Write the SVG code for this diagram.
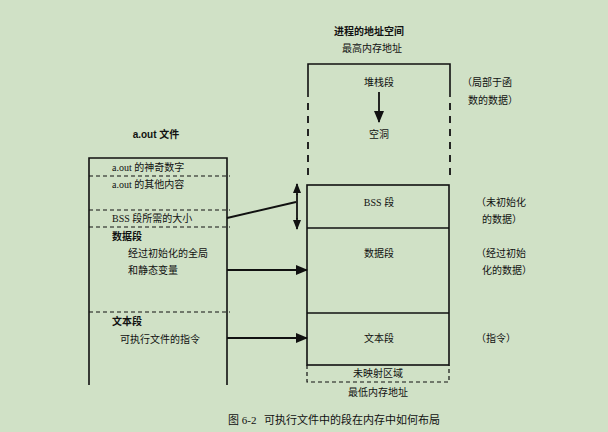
<svg xmlns="http://www.w3.org/2000/svg" width="608" height="432" viewBox="0 0 608 432">
<defs>
<style>
text{font-family:"Liberation Serif","Noto Sans CJK SC",serif;font-size:10px;fill:#111}
.b{font-weight:bold;font-family:"Liberation Sans","Noto Sans CJK SC",sans-serif}
.c{text-anchor:middle}
.box{fill:none;stroke:#111;stroke-width:1.6}
.d{stroke:#111;stroke-width:1.2;stroke-dasharray:4 3;fill:none}
.dl{stroke:#111;stroke-width:1.8;stroke-dasharray:7 6;fill:none}
.ln{stroke:#111;stroke-width:1.8;fill:none}
</style>
<marker id="ah" markerWidth="10" markerHeight="8" refX="9" refY="4" orient="auto" markerUnits="userSpaceOnUse"><path d="M0,0L10,4L0,8Z" fill="#111"/></marker>
<marker id="ah2" markerWidth="12" markerHeight="10" refX="11" refY="5" orient="auto" markerUnits="userSpaceOnUse"><path d="M0,0L12,5L0,10Z" fill="#111"/></marker>
</defs>
<rect width="608" height="432" fill="#d0e1c6"/>
<g id="aout">
<text class="b c" x="156" y="138">a.out 文件</text>
<path class="box" d="M89,385V158H227V385"/>
<line class="d" x1="89" y1="176" x2="230" y2="176"/>
<line class="d" x1="89" y1="210" x2="230" y2="210"/>
<line class="d" x1="89" y1="227" x2="230" y2="227"/>
<line class="d" x1="89" y1="312" x2="230" y2="312"/>
<text x="112" y="171">a.out 的神奇数字</text>
<text x="112" y="188">a.out 的其他内容</text>
<text x="112" y="222">BSS 段所需的大小</text>
<text class="b" x="112" y="240">数据段</text>
<text x="128" y="257">经过初始化的全局</text>
<text x="128" y="274">和静态变量</text>
<text class="b" x="112" y="325">文本段</text>
<text x="120" y="343">可执行文件的指令</text>
</g>
<g id="proc">
<text class="b c" x="369" y="35">进程的地址空间</text>
<text class="c" x="372" y="52">最高内存地址</text>
<path class="box" d="M308,97V64H450V97"/>
<line class="dl" x1="308" y1="103" x2="308" y2="178"/>
<line class="dl" x1="450" y1="103" x2="450" y2="178"/>
<text class="c" x="379" y="86">堆栈段</text>
<line class="ln" x1="379" y1="92" x2="379" y2="122" marker-end="url(#ah2)"/>
<text class="c" x="379" y="138">空洞</text>
<rect class="box" x="307" y="185" width="142" height="180"/>
<line class="box" x1="307" y1="228" x2="449" y2="228"/>
<line class="box" x1="307" y1="313" x2="449" y2="313"/>
<text class="c" x="379" y="206">BSS 段</text>
<text class="c" x="379" y="257">数据段</text>
<text class="c" x="379" y="342">文本段</text>
<path class="d" d="M307,365V382H449V365"/>
<text class="c" x="378" y="377">未映射区域</text>
<text class="c" x="378" y="396">最低内存地址</text>
<text x="462" y="86">（局部于函</text>
<text x="468" y="104">数的数据）</text>
<text x="476" y="206">（未初始化</text>
<text x="482" y="223">的数据）</text>
<text x="476" y="257">（经过初始</text>
<text x="482" y="274">化的数据）</text>
<text x="476" y="342">（指令）</text>
</g>
<g id="connectors">
<line class="ln" x1="297" y1="195" x2="297" y2="184" marker-end="url(#ah)"/>
<line class="ln" x1="297" y1="218" x2="297" y2="229" marker-end="url(#ah)"/>
<line class="ln" x1="297" y1="194" x2="297" y2="219"/>
<line class="ln" x1="227" y1="218" x2="296" y2="202"/>
<line class="ln" x1="227" y1="270" x2="307" y2="270" marker-end="url(#ah2)"/>
<line class="ln" x1="227" y1="338" x2="307" y2="338" marker-end="url(#ah2)"/>
</g>
<text x="228" y="424" style="font-size:11px">图 6-2</text>
<text x="264" y="424" style="font-size:11px">可执行文件中的段在内存中如何布局</text>
</svg>
